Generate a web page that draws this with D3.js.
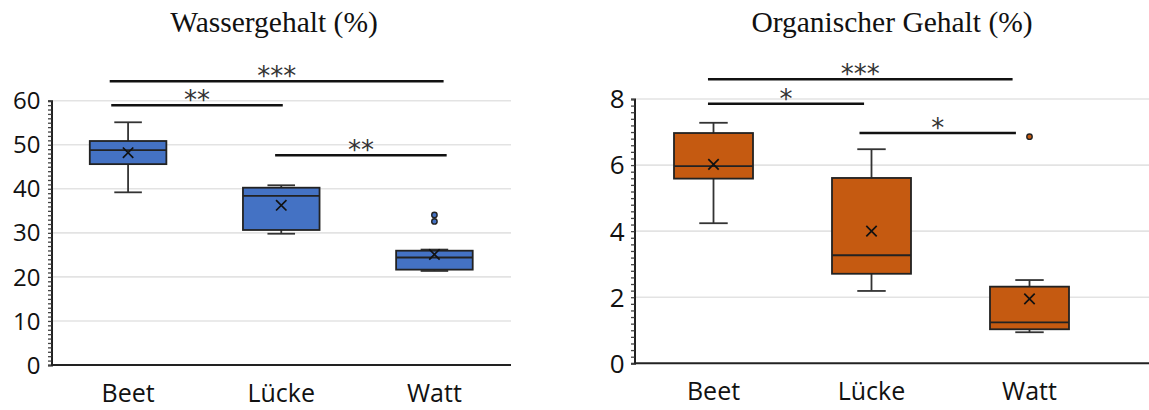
<!DOCTYPE html>
<html>
<head>
<meta charset="utf-8">
<script src="https://cdn.jsdelivr.net/npm/d3@7"></script>
<style>
html,body{margin:0;padding:0;background:#fff;}
svg{display:block;}
</style>
</head>
<body>
<svg id="chart" width="1149" height="410"></svg>
<script>
// ---- data ----
const categories = ["Beet", "Lücke", "Watt"];

const waterTitle = "Wassergehalt (%)";
const waterMin = [39.2, 29.8, 21.35];
const waterQ1 = [45.6, 30.65, 21.65];
const waterMedian = [48.8, 38.4, 24.4];
const waterQ3 = [50.85, 40.25, 25.95];
const waterMax = [55.1, 40.8, 26.2];
const waterMean = [48.2, 36.25, 25.1];
const waterOutliers = [[], [], [34.05, 32.6]];
const waterTicks = [0, 10, 20, 30, 40, 50, 60];
const waterSigLabels = ["***", "**", "**"];
const waterSigLevel = [64.4, 58.95, 47.6];
const waterSigStart = [-0.12, -0.11, 0.96];
const waterSigEnd = [2.06, 1.01, 2.08];

const orgTitle = "Organischer Gehalt (%)";
const orgMin = [4.24, 2.19, 0.94];
const orgQ1 = [5.59, 2.71, 1.03];
const orgMedian = [5.97, 3.27, 1.24];
const orgQ3 = [6.97, 5.61, 2.32];
const orgMax = [7.28, 6.48, 2.52];
const orgMean = [6.02, 4.0, 1.95];
const orgOutliers = [[], [], [6.86]];
const orgTicks = [0, 2, 4, 6, 8];
const orgSigLabels = ["***", "*", "*"];
const orgSigLevel = [8.6, 7.86, 6.97];
const orgSigStart = [-0.035, -0.035, 0.924];
const orgSigEnd = [1.893, 0.953, 1.914];

const svg = d3.select("#chart");

function drawPanel(cfg) {
  const g = svg.append("g");
  const x = d3.scaleBand().domain(categories).range([cfg.x0, cfg.x1]).padding(0);
  const bw = x.bandwidth();
  const cx = c => x(c) + bw / 2;
  const xi = d3.scaleLinear().domain([0, 1]).range([cx(categories[0]), cx(categories[1])]);
  const y = d3.scaleLinear().domain([0, cfg.ymax]).range([cfg.y0, cfg.y1]);

  // gridlines
  g.append("g").selectAll("line").data(cfg.ticks.filter(t => t > 0)).join("line")
    .attr("x1", cfg.x0).attr("x2", cfg.gridEnd)
    .attr("y1", d => y(d)).attr("y2", d => y(d))
    .attr("stroke", "#e3e3e3").attr("stroke-width", 1.6);

  // y axis with minor ticks
  const minor = d3.range(0, cfg.ymax + 1e-9, cfg.minorStep);
  const ay = g.append("g").attr("transform", `translate(${cfg.x0},0)`)
    .call(d3.axisLeft(y).tickValues(minor).tickSize(3.5).tickFormat(""));
  ay.select(".domain").attr("stroke", "#222").attr("stroke-width", 2);
  ay.selectAll(".tick line").attr("stroke", "#444").attr("stroke-width", 1.3);

  g.append("g").selectAll("text").data(cfg.ticks).join("text")
    .attr("x", cfg.x0 - cfg.labelGap).attr("y", d => y(d))
    .attr("dy", "0.36em").attr("text-anchor", "end")
    .attr("font-family", "Open Sans").attr("font-size", cfg.yFont).attr("fill", "#111")
    .text(d => d);

  // x axis
  const ax = g.append("g").attr("transform", `translate(0,${cfg.y0})`)
    .call(d3.axisBottom(x).tickSize(0).tickPadding(0));
  ax.select(".domain").attr("stroke", "#222").attr("stroke-width", 2)
    .attr("d", `M${cfg.x0},0H${cfg.gridEnd}`);
  ax.selectAll(".tick text").attr("font-family", "Open Sans").attr("font-size", 25)
    .attr("fill", "#111").attr("y", 37).attr("dy", 0);

  // boxes
  const stats = categories.map((c, i) => ({
    c, min: cfg.min[i], q1: cfg.q1[i], med: cfg.median[i], q3: cfg.q3[i],
    max: cfg.max[i], mean: cfg.mean[i], out: cfg.outliers[i]
  }));
  const boxW = bw * 0.5, capW = bw * 0.18;
  const bg = g.append("g").selectAll("g").data(stats).join("g");
  bg.append("line").attr("x1", d => cx(d.c)).attr("x2", d => cx(d.c))
    .attr("y1", d => y(d.max)).attr("y2", d => y(d.q3)).attr("stroke", "#333").attr("stroke-width", 1.8);
  bg.append("line").attr("x1", d => cx(d.c)).attr("x2", d => cx(d.c))
    .attr("y1", d => y(d.q1)).attr("y2", d => y(d.min)).attr("stroke", "#333").attr("stroke-width", 1.8);
  bg.append("line").attr("x1", d => cx(d.c) - capW / 2).attr("x2", d => cx(d.c) + capW / 2)
    .attr("y1", d => y(d.max)).attr("y2", d => y(d.max)).attr("stroke", "#333").attr("stroke-width", 1.8);
  bg.append("line").attr("x1", d => cx(d.c) - capW / 2).attr("x2", d => cx(d.c) + capW / 2)
    .attr("y1", d => y(d.min)).attr("y2", d => y(d.min)).attr("stroke", "#333").attr("stroke-width", 1.8);
  bg.append("rect").attr("x", d => cx(d.c) - boxW / 2).attr("width", boxW)
    .attr("y", d => y(d.q3)).attr("height", d => y(d.q1) - y(d.q3))
    .attr("fill", cfg.color).attr("stroke", "#222").attr("stroke-width", 1.8);
  bg.append("line").attr("x1", d => cx(d.c) - boxW / 2).attr("x2", d => cx(d.c) + boxW / 2)
    .attr("y1", d => y(d.med)).attr("y2", d => y(d.med)).attr("stroke", "#222").attr("stroke-width", 1.8);
  const m = 5.2;
  bg.append("path").attr("d", d => {
      const px = cx(d.c), py = y(d.mean);
      return `M${px - m},${py - m}L${px + m},${py + m}M${px - m},${py + m}L${px + m},${py - m}`;
    }).attr("stroke", "#111").attr("stroke-width", 1.7).attr("fill", "none");
  bg.selectAll("circle").data(d => d.out.map(v => ({ c: d.c, v }))).join("circle")
    .attr("cx", d => cx(d.c)).attr("cy", d => y(d.v)).attr("r", 2.7)
    .attr("fill", cfg.color).attr("stroke", "#222").attr("stroke-width", 1.4);

  // significance brackets
  const sig = cfg.sigLabels.map((l, i) => ({ l, lev: cfg.sigLevel[i], s: cfg.sigStart[i], e: cfg.sigEnd[i] }));
  const sg = g.append("g");
  sg.selectAll("line").data(sig).join("line")
    .attr("x1", d => xi(d.s)).attr("x2", d => xi(d.e))
    .attr("y1", d => y(d.lev)).attr("y2", d => y(d.lev))
    .attr("stroke", "#111").attr("stroke-width", 2.5);
  sg.selectAll("text").data(sig).join("text")
    .attr("x", d => (xi(d.s) + xi(d.e)) / 2).attr("y", d => y(d.lev) + 4)
    .attr("text-anchor", "middle").attr("font-family", "DejaVu Sans").attr("font-size", 26)
    .attr("fill", "#333").text(d => d.l);

  // title
  svg.append("text").attr("x", cfg.titleX).attr("y", 32).attr("text-anchor", "middle")
    .attr("font-family", "Liberation Serif").attr("font-size", 29.5).attr("fill", "#111")
    .text(cfg.title);
}

drawPanel({
  x0: 51.5, x1: 511, gridEnd: 511, y0: 365, y1: 100.7, ymax: 60,
  ticks: waterTicks, minorStep: 1, labelGap: 11, yFont: 24,
  min: waterMin, q1: waterQ1, median: waterMedian, q3: waterQ3, max: waterMax,
  mean: waterMean, outliers: waterOutliers, color: "#4472C4",
  sigLabels: waterSigLabels, sigLevel: waterSigLevel, sigStart: waterSigStart, sigEnd: waterSigEnd,
  title: waterTitle, titleX: 274
});

drawPanel({
  x0: 634.5, x1: 1108.5, gridEnd: 1149, y0: 363.3, y1: 99, ymax: 8,
  ticks: orgTicks, minorStep: 0.2, labelGap: 10, yFont: 26,
  min: orgMin, q1: orgQ1, median: orgMedian, q3: orgQ3, max: orgMax,
  mean: orgMean, outliers: orgOutliers, color: "#C55A11",
  sigLabels: orgSigLabels, sigLevel: orgSigLevel, sigStart: orgSigStart, sigEnd: orgSigEnd,
  title: orgTitle, titleX: 892
});
</script>
</body>
</html>
